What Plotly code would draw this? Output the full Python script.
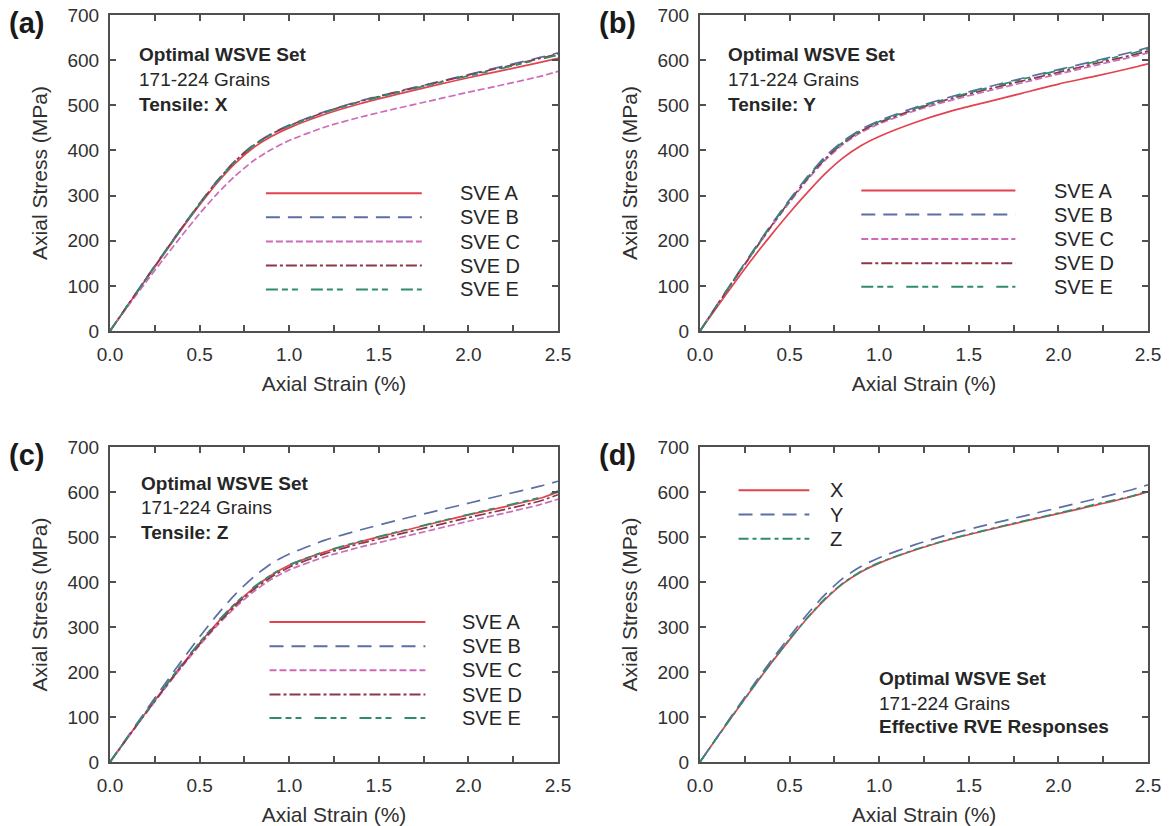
import plotly.graph_objects as go

# ---------------------------------------------------------------- data
STRAIN = [0.0, 0.1, 0.2, 0.3, 0.4, 0.5, 0.6, 0.7, 0.8, 0.9, 1.0,
          1.2, 1.4, 1.6, 1.8, 2.0, 2.2, 2.4, 2.5]

SVE_NAMES = ["SVE A", "SVE B", "SVE C", "SVE D", "SVE E"]
DIR_NAMES = ["X", "Y", "Z"]

# (a) tensile X
X_SVE_A = [0, 57, 114, 170, 226, 279, 329, 372, 406, 431, 450, 480, 504, 524, 543, 561, 578, 595, 604]
X_SVE_B = [0, 58, 116, 173, 229, 283, 334, 378, 412, 437, 456, 486, 510, 530, 549, 568, 587, 606, 616]
X_SVE_C = [0, 55, 108, 160, 211, 260, 305, 344, 377, 402, 422, 452, 474, 493, 511, 529, 546, 564, 575]
X_SVE_D = [0, 58, 115, 172, 228, 282, 333, 377, 411, 436, 455, 485, 509, 529, 548, 567, 585, 604, 614]
X_SVE_E = [0, 57, 115, 171, 227, 281, 332, 376, 410, 435, 454, 484, 508, 528, 547, 565, 583, 602, 611]

# (b) tensile Y
Y_SVE_A = [0, 56, 111, 164, 214, 262, 307, 349, 384, 411, 431, 462, 487, 507, 527, 547, 564, 582, 592]
Y_SVE_B = [0, 61, 121, 180, 237, 291, 342, 387, 421, 447, 466, 495, 519, 540, 560, 579, 598, 617, 628]
Y_SVE_C = [0, 59, 118, 176, 232, 285, 335, 379, 414, 440, 459, 488, 511, 531, 550, 569, 588, 606, 616]
Y_SVE_D = [0, 60, 119, 177, 234, 288, 338, 382, 417, 443, 462, 491, 515, 535, 554, 573, 592, 610, 620]
Y_SVE_E = [0, 60, 120, 178, 235, 289, 340, 384, 419, 445, 464, 493, 517, 538, 558, 577, 596, 614, 625]

# (c) tensile Z
Z_SVE_A = [0, 55, 110, 163, 215, 264, 310, 351, 386, 415, 437, 467, 490, 510, 530, 549, 567, 586, 600]
Z_SVE_B = [0, 57, 114, 170, 225, 278, 328, 373, 411, 441, 462, 493, 516, 537, 556, 575, 594, 613, 624]
Z_SVE_C = [0, 54, 108, 160, 211, 259, 304, 344, 378, 406, 427, 456, 478, 497, 516, 535, 553, 572, 584]
Z_SVE_D = [0, 55, 109, 162, 213, 262, 307, 348, 383, 411, 433, 463, 486, 505, 524, 543, 561, 580, 594]
Z_SVE_E = [0, 56, 111, 165, 217, 266, 312, 353, 388, 416, 438, 468, 491, 511, 531, 550, 569, 588, 602]

# (d) effective RVE responses
RVE_X = [0, 57, 113, 168, 221, 272, 320, 362, 397, 423, 442, 471, 495, 515, 534, 552, 570, 589, 601]
RVE_Y = [0, 58, 116, 172, 227, 279, 329, 373, 409, 435, 454, 483, 507, 527, 546, 565, 584, 604, 616]
RVE_Z = [0, 57, 113, 168, 222, 273, 321, 364, 398, 424, 443, 472, 496, 516, 535, 553, 572, 590, 602]

X_TICKS = [0.0, 0.5, 1.0, 1.5, 2.0, 2.5]
Y_TICKS = [0, 100, 200, 300, 400, 500, 600, 700]

# ---------------------------------------------------------------- styles
FONT = "Arial, 'Liberation Sans', sans-serif"
AXIS_COLOR = "#505050"
TEXT_COLOR = "#262626"

SVE_STYLE = [
    dict(color="#e2434f", dash="solid"),
    dict(color="#5b6ea6", dash="14px,8px"),
    dict(color="#cc6cb8", dash="7px,3px"),
    dict(color="#8a3848", dash="11px,3px,3px,3px"),
    dict(color="#2f8c6c", dash="12px,4px,6px,4px,6px,13px"),
]
DIR_STYLE = [
    dict(color="#e2434f", dash="solid"),
    dict(color="#5b6ea6", dash="14px,8px"),
    dict(color="#2f8c6c", dash="10px,4px,4px,4px"),
]
LINE_W = 1.7

W, H = 1173, 826
# panel boxes in pixels: (left, right, top, bottom)
BOXES = [(110, 558, 15, 331), (700, 1148, 15, 331),
         (110, 558, 447, 762), (700, 1148, 447, 762)]

PANELS = [
    dict(tag="(a)", series=[X_SVE_A, X_SVE_B, X_SVE_C, X_SVE_D, X_SVE_E],
         names=SVE_NAMES, styles=SVE_STYLE,
         note=["<b>Optimal WSVE Set</b>", "171-224 Grains", "<b>Tensile: X</b>"],
         note_x=0.15, note_y=[612, 557, 502],
         leg_x=(0.87, 1.74, 1.94), leg_y=[305, 252, 198, 145, 92]),
    dict(tag="(b)", series=[Y_SVE_A, Y_SVE_B, Y_SVE_C, Y_SVE_D, Y_SVE_E],
         names=SVE_NAMES, styles=SVE_STYLE,
         note=["<b>Optimal WSVE Set</b>", "171-224 Grains", "<b>Tensile: Y</b>"],
         note_x=0.145, note_y=[612, 557, 502],
         leg_x=(0.90, 1.76, 1.965), leg_y=[311, 258, 204, 150, 98]),
    dict(tag="(c)", series=[Z_SVE_A, Z_SVE_B, Z_SVE_C, Z_SVE_D, Z_SVE_E],
         names=SVE_NAMES, styles=SVE_STYLE,
         note=["<b>Optimal WSVE Set</b>", "171-224 Grains", "<b>Tensile: Z</b>"],
         note_x=0.16, note_y=[619, 565, 511],
         leg_x=(0.89, 1.76, 1.955), leg_y=[311, 257, 204, 150, 98]),
    dict(tag="(d)", series=[RVE_X, RVE_Y, RVE_Z],
         names=DIR_NAMES, styles=DIR_STYLE,
         note=["<b>Optimal WSVE Set</b>", "171-224 Grains", "<b>Effective RVE Responses</b>"],
         note_x=0.985, note_y=[185, 130, 78],
         leg_x=(0.215, 0.61, 0.715), leg_y=[604, 550, 496]),
]

fig = go.Figure()
annotations = []
shapes = []
layout_axes = {}

for i, (panel, box) in enumerate(zip(PANELS, BOXES)):
    n = "" if i == 0 else str(i + 1)
    xa, ya = "x" + n, "y" + n
    left, right, top, bottom = box
    xdom = [left / W, right / W]
    ydom = [1 - bottom / H, 1 - top / H]

    for name, vals, st in zip(panel["names"], panel["series"], panel["styles"]):
        fig.add_trace(go.Scatter(
            x=STRAIN, y=vals, name=name, mode="lines",
            line=dict(color=st["color"], dash=st["dash"], width=LINE_W,
                      shape="spline", smoothing=0.6),
            xaxis=xa, yaxis=ya, showlegend=False,
        ))

    common = dict(
        showline=True, linecolor=AXIS_COLOR, linewidth=2, mirror="ticks",
        ticks="inside", ticklen=6, tickwidth=1.5, tickcolor=AXIS_COLOR,
        showgrid=False, zeroline=False, automargin=False,
        tickfont=dict(family=FONT, size=19, color="#303030"),
        ticklabelstandoff=5,
    )
    layout_axes["xaxis" + n] = dict(
        common, domain=xdom, anchor=ya, range=[0, 2.5],
        tickvals=X_TICKS, tickformat=".1f",
        minor=dict(dtick=0.25, ticks="inside", ticklen=6, tickwidth=1.5,
                   tickcolor=AXIS_COLOR, showgrid=False),
        title=dict(text="Axial Strain (%)", standoff=13,
                   font=dict(family=FONT, size=21, color="#303030")),
    )
    layout_axes["yaxis" + n] = dict(
        common, domain=ydom, anchor=xa, range=[0, 700], tickvals=Y_TICKS,
        title=dict(text="Axial Stress (MPa)", standoff=14,
                   font=dict(family=FONT, size=21, color="#303030")),
    )

    # panel tag
    annotations.append(dict(
        text="<b>%s</b>" % panel["tag"], xref="paper", yref="paper",
        x=(left - 103) / W, y=1 - (top + 8) / H, xanchor="left", yanchor="middle",
        showarrow=False, font=dict(family=FONT, size=29, color="#1a1a1a"),
    ))

    # descriptive note lines
    for line, yv in zip(panel["note"], panel["note_y"]):
        annotations.append(dict(
            text=line, xref=xa, yref=ya, x=panel["note_x"], y=yv,
            xanchor="left", yanchor="middle", showarrow=False,
            font=dict(family=FONT, size=19, color=TEXT_COLOR),
        ))

    # in-plot key with long line samples
    lx0, lx1, ltx = panel["leg_x"]
    for name, st, yv in zip(panel["names"], panel["styles"], panel["leg_y"]):
        shapes.append(dict(
            type="line", xref=xa, yref=ya, x0=lx0, x1=lx1, y0=yv, y1=yv,
            line=dict(color=st["color"], dash=st["dash"], width=LINE_W + 0.3),
        ))
        annotations.append(dict(
            text=name, xref=xa, yref=ya, x=ltx, y=yv,
            xanchor="left", yanchor="middle", showarrow=False,
            font=dict(family=FONT, size=20, color=TEXT_COLOR),
        ))

fig.update_layout(
    width=W, height=H, autosize=False,
    margin=dict(l=0, r=0, t=0, b=0),
    paper_bgcolor="white", plot_bgcolor="white",
    showlegend=False,
    annotations=annotations, shapes=shapes,
    **layout_axes,
)

fig.write_html("out.html")
